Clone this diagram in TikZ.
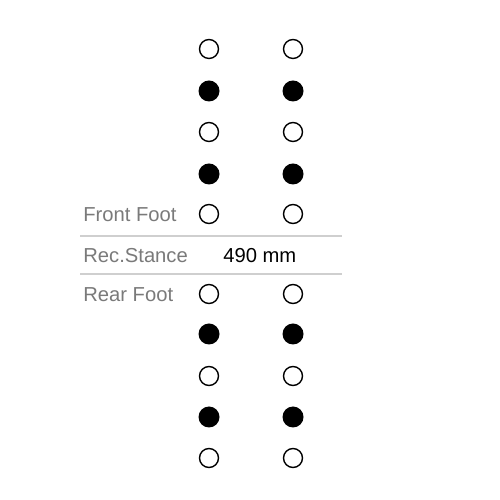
\documentclass[tikz,border=0pt]{standalone}
\usepackage{fontspec}
\setmainfont{Liberation Sans}
\definecolor{labelgray}{HTML}{7A7A7A}
\definecolor{rulegray}{HTML}{CFCFCF}
\tikzset{
  hole/.style={circle, draw=black, line width=0.8pt, inner sep=0pt, minimum size=0.38cm},
  insert/.style={circle, fill=black, inner sep=0pt, minimum size=0.42cm},
  footlabel/.style={anchor=base west, inner sep=0pt, text=labelgray},
}
\begin{document}
\begin{tikzpicture}[font=\fontsize{11.5}{13}\selectfont]
        \useasboundingbox[fill=white] (0,0) rectangle (10,10);

        % Front foot holes
        \node[hole]   (fl1) at (4.18,9.02) {};
        \node[hole]   (fr1) at (5.86,9.02) {};
        \node[insert] (fl2) at (4.18,8.18) {};
        \node[insert] (fr2) at (5.86,8.18) {};
        \node[hole]   (fl3) at (4.18,7.36) {};
        \node[hole]   (fr3) at (5.86,7.36) {};
        \node[insert] (fl4) at (4.18,6.52) {};
        \node[insert] (fr4) at (5.86,6.52) {};
        \node[hole]   (fl5) at (4.18,5.72) {};
        \node[hole]   (fr5) at (5.86,5.72) {};

        % Rear foot holes
        \node[hole]   (rl1) at (4.18,4.12) {};
        \node[hole]   (rr1) at (5.86,4.12) {};
        \node[insert] (rl2) at (4.18,3.32) {};
        \node[insert] (rr2) at (5.86,3.32) {};
        \node[hole]   (rl3) at (4.18,2.48) {};
        \node[hole]   (rr3) at (5.86,2.48) {};
        \node[insert] (rl4) at (4.18,1.66) {};
        \node[insert] (rr4) at (5.86,1.66) {};
        \node[hole]   (rl5) at (4.18,0.84) {};
        \node[hole]   (rr5) at (5.86,0.84) {};

        % Separators
        \draw[rulegray, line width=1.2pt] (1.6,5.28) -- (6.84,5.28);
        \draw[rulegray, line width=1.2pt] (1.6,4.52) -- (6.84,4.52);

        % Labels
        \node[footlabel] (front) at (1.66,5.56) {Front Foot};
        \node[footlabel] (stance) at (1.66,4.74) {Rec.Stance};
        \node[footlabel, text=black] (width) at (4.46,4.74) {490 mm};
        \node[footlabel] (rear) at (1.66,3.96) {Rear Foot};
    \end{tikzpicture}
\end{document}
